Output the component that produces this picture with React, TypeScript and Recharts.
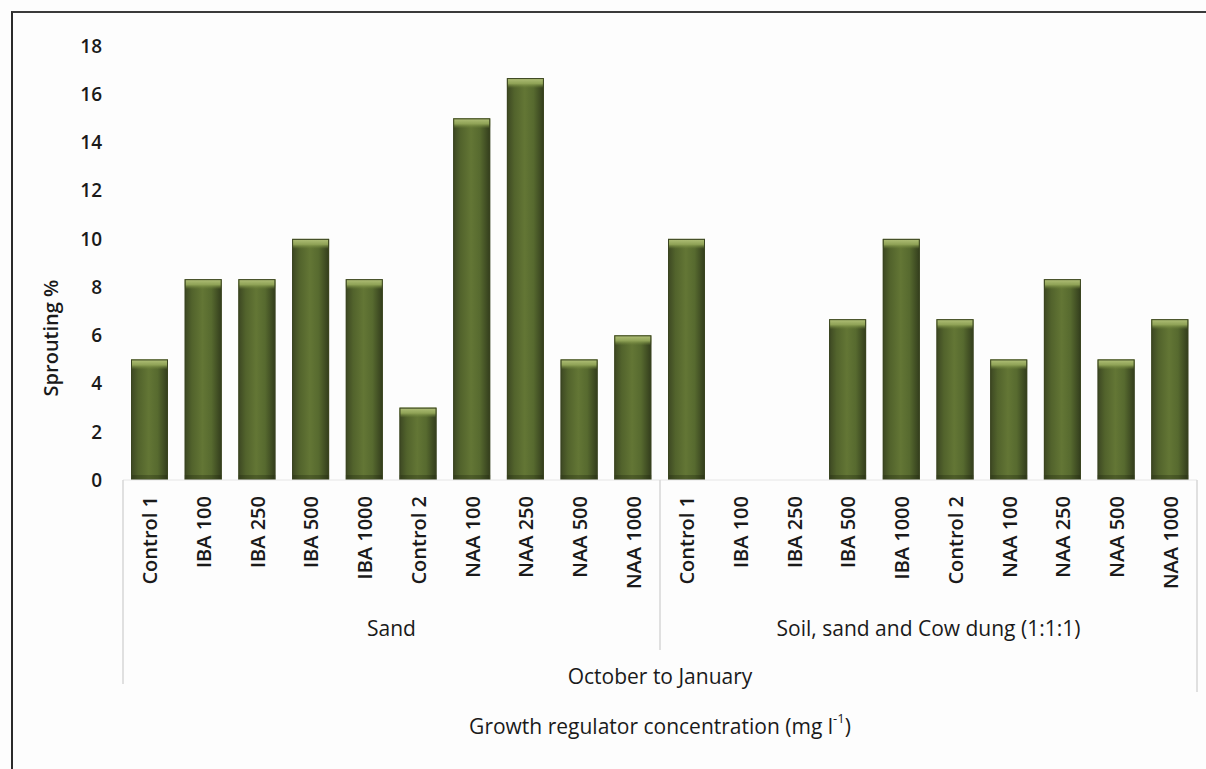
import { BarChart, Bar, XAxis, YAxis, Label } from "recharts";

// ── Data ──────────────────────────────────────────────────────────────────────
const treatments = [
  "Control 1", "IBA 100", "IBA 250", "IBA 500", "IBA 1000",
  "Control 2", "NAA 100", "NAA 250", "NAA 500", "NAA 1000",
];
const media = ["Sand", "Soil, sand and Cow dung (1:1:1)"];
const sandSprouting = [5, 8.33, 8.33, 10, 8.33, 3, 15, 16.67, 5, 6];
const mixSprouting = [10, 0, 0, 6.67, 10, 6.67, 5, 8.33, 5, 6.67];
const seasonLabel = "October to January";
const yTicks = [0, 2, 4, 6, 8, 10, 12, 14, 16, 18];

const rows = media.flatMap((m, mi) =>
  treatments.map((t, ti) => ({
    key: `${mi}-${ti}`,
    treatment: t,
    medium: m,
    sprouting: (mi === 0 ? sandSprouting : mixSprouting)[ti],
  }))
);

// ── Layout / theme ────────────────────────────────────────────────────────────
const W = 1206;
const H = 769;
const PLOT_LEFT = 123;
const PLOT_RIGHT = 1197;
const PLOT_TOP = 46;
const PLOT_BOTTOM = 480;
const BAND = (PLOT_RIGHT - PLOT_LEFT) / rows.length;
const FONT = "'Open Sans', 'Noto Sans', sans-serif";
const INK = "#1a1a1a";
const SEP = "#d6d6d6";

// bar with a cylinder-like shading and a lighter rim on top
function CylinderBar(props: any) {
  const { x, y, width, height } = props;
  if (!height || height <= 0) return null;
  const cap = Math.min(10, height);
  const foot = Math.min(5, height);
  return (
    <g>
      <rect x={x} y={y} width={width} height={height} fill="url(#barBody)" />
      <rect x={x} y={y} width={width} height={cap} fill="url(#barCap)" />
      <rect x={x} y={y + height - foot} width={width} height={foot} fill="rgba(30,36,14,0.3)" />
      <rect x={x + 0.5} y={y + 0.5} width={width - 1} height={height - 1} fill="none" stroke="#3a4420" strokeWidth={1} />
    </g>
  );
}

// multi-level category tick: treatment, medium and season rows with separators
function CategoryTick(props: any) {
  const { x, y, index } = props;
  const row = rows[index];
  if (!row) return null;
  const left = x - BAND / 2;
  const perGroup = treatments.length;
  const first = index % perGroup === 0;
  const last = index === rows.length - 1;
  return (
    <g>
      <text
        x={x}
        y={y}
        transform={`rotate(-90, ${x}, ${y})`}
        textAnchor="end"
        dominantBaseline="central"
        fontFamily={FONT}
        fontSize={20}
        fontWeight={600}
        fill={INK}
      >
        {row.treatment}
      </text>
      {first && (
        <>
          <line
            x1={left}
            x2={left}
            y1={PLOT_BOTTOM}
            y2={index === 0 ? 684 : 650}
            stroke={SEP}
            strokeWidth={1.5}
          />
          <text
            x={left + (BAND * perGroup) / 2}
            y={628}
            textAnchor="middle"
            dominantBaseline="central"
            fontFamily={FONT}
            fontSize={21}
            fontWeight={500}
            fill={INK}
          >
            {row.medium}
          </text>
        </>
      )}
      {index === 0 && (
        <text
          x={left + (BAND * rows.length) / 2}
          y={676}
          textAnchor="middle"
          dominantBaseline="central"
          fontFamily={FONT}
          fontSize={21}
          fontWeight={500}
          fill={INK}
        >
          {seasonLabel}
        </text>
      )}
      {last && (
        <line x1={x + BAND / 2} x2={x + BAND / 2} y1={PLOT_BOTTOM} y2={692} stroke={SEP} strokeWidth={1.5} />
      )}
    </g>
  );
}

function XTitle(props: any) {
  const vb = props.viewBox || {};
  const cx = (vb.x ?? PLOT_LEFT) + (vb.width ?? PLOT_RIGHT - PLOT_LEFT) / 2;
  return (
    <text x={cx} y={726} textAnchor="middle" dominantBaseline="central" fontFamily={FONT} fontSize={21} fontWeight={500} fill={INK}>
      Growth regulator concentration (mg l
      <tspan fontSize={13} dy={-8}>-1</tspan>
      <tspan dy={8}>)</tspan>
    </text>
  );
}

function YTitle() {
  return (
    <text
      x={50}
      y={338}
      transform="rotate(-90, 50, 338)"
      textAnchor="middle"
      dominantBaseline="central"
      fontFamily={FONT}
      fontSize={20}
      fontWeight={600}
      fill={INK}
    >
      Sprouting %
    </text>
  );
}

export default function App() {
  return (
    <div style={{ position: "absolute", left: 0, top: 0, width: W, height: H, background: "#fdfdfd", overflow: "hidden" }}>
      <div
        style={{
          position: "absolute",
          left: 11,
          top: 11,
          width: W,
          height: H,
          borderLeft: "2px solid #2b2b2b",
          borderTop: "2px solid #3a3a3a",
          boxSizing: "border-box",
        }}
      />
      <BarChart
        width={W}
        height={H}
        data={rows}
        margin={{ top: PLOT_TOP, right: W - PLOT_RIGHT, bottom: 0, left: 0 }}
        style={{ position: "absolute", left: 0, top: 0 }}
      >
        <defs>
          <linearGradient id="barBody" x1="0" y1="0" x2="1" y2="0">
            <stop offset="0%" stopColor="#3c4722" />
            <stop offset="20%" stopColor="#52632c" />
            <stop offset="48%" stopColor="#637635" />
            <stop offset="72%" stopColor="#576a2f" />
            <stop offset="100%" stopColor="#323c1c" />
          </linearGradient>
          <linearGradient id="barCap" x1="0" y1="0" x2="0" y2="1">
            <stop offset="0%" stopColor="#b3c27a" />
            <stop offset="55%" stopColor="#8fa256" />
            <stop offset="100%" stopColor="#6f843a" stopOpacity={0} />
          </linearGradient>
        </defs>
        <XAxis
          dataKey="key"
          interval={0}
          height={H - PLOT_BOTTOM}
          tickLine={false}
          tickSize={0}
          tickMargin={16}
          axisLine={{ stroke: "#e6e6e6" }}
          tick={<CategoryTick />}
        >
          <Label content={<XTitle />} />
        </XAxis>
        <YAxis
          width={PLOT_LEFT}
          domain={[0, 18]}
          ticks={yTicks}
          interval={0}
          axisLine={false}
          tickLine={false}
          tickSize={0}
          tickMargin={21}
          tick={{ fill: INK, fontSize: 19, fontWeight: 600, fontFamily: FONT }}
        />
        <Bar dataKey="sprouting" barSize={37} shape={<CylinderBar />} isAnimationActive={false} />
        <YTitle />
      </BarChart>
    </div>
  );
}
